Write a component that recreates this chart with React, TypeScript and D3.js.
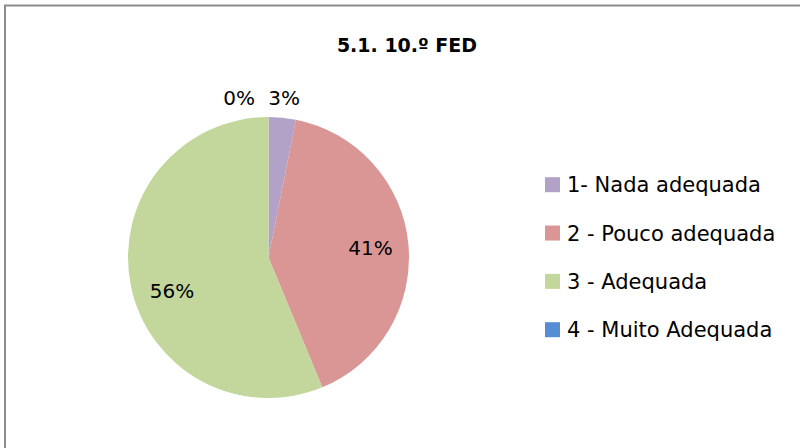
import { useRef, useEffect } from "react";
import * as d3 from "d3";

// answer counts (percentages shown are count / total)
const categories = ["1- Nada adequada", "2 - Pouco adequada", "3 - Adequada", "4 - Muito Adequada"];
const counts = [1, 13, 18, 0];
const colors = ["#b3a2c7", "#d99694", "#c3d69b", "#558ed5"];
const title = "5.1. 10.º FED";

const FONT = "'DejaVu Sans', 'Open Sans', sans-serif";

type Datum = { v: number; i: number };

export default function App() {
  const svgRef = useRef<SVGSVGElement>(null);

  useEffect(() => {
    if (!svgRef.current) return;
    const width = 800;
    const height = 448;
    const cx = 268.5;
    const cy = 257.5;
    const r = 140.5;

    const svg = d3.select(svgRef.current);
    svg.selectAll("*").remove();
    svg.attr("width", width).attr("height", height);

    svg.append("rect").attr("width", width).attr("height", height).attr("fill", "#fff");

    // chart area border (right/bottom are cut off in the original)
    svg.append("rect")
      .attr("x", 5)
      .attr("y", 5.5)
      .attr("width", width + 20)
      .attr("height", height + 20)
      .attr("fill", "none")
      .attr("stroke", "#8c8c8c")
      .attr("stroke-width", 2);

    svg.append("text")
      .attr("x", 407)
      .attr("y", 52)
      .attr("text-anchor", "middle")
      .attr("font-family", FONT)
      .attr("font-weight", "700")
      .attr("font-size", "19px")
      .attr("fill", "#000")
      .text(title);

    const total = d3.sum(counts);
    const data: Datum[] = counts.map((v, i) => ({ v, i }));

    const pie = d3.pie<Datum>()
      .value((d) => d.v)
      .sort(null);
    const arcs = pie(data);

    const arc = d3.arc<d3.PieArcDatum<Datum>>()
      .innerRadius(0)
      .outerRadius(r);

    const g = svg.append("g").attr("transform", `translate(${cx},${cy})`);

    g.selectAll("path.slice")
      .data(arcs.filter((a) => a.data.v > 0))
      .join("path")
      .attr("class", "slice")
      .attr("d", arc)
      .attr("fill", (d) => colors[d.data.i]);

    const fmt = (v: number) => `${Math.round((v / total) * 100)}%`;

    // inside labels for big slices
    const inner = d3.arc<d3.PieArcDatum<Datum>>()
      .innerRadius(r * 0.73)
      .outerRadius(r * 0.73);

    const big = arcs.filter((a) => a.endAngle - a.startAngle > 0.5);
    g.selectAll("text.in")
      .data(big)
      .join("text")
      .attr("class", "in")
      .attr("x", (d) => inner.centroid(d)[0] + (d.data.i === 2 ? 4 : 0))
      .attr("y", (d) => inner.centroid(d)[1] + (d.data.i === 2 ? 13 : 0))
      .attr("dy", "0.36em")
      .attr("text-anchor", "middle")
      .attr("font-family", FONT)
      .attr("font-size", "20px")
      .attr("fill", "#000")
      .text((d) => fmt(d.data.v));

    // outside labels for small slices (the 0% one is pushed left to avoid overlap)
    const outer = d3.arc<d3.PieArcDatum<Datum>>()
      .innerRadius(r * 1.14)
      .outerRadius(r * 1.14);
    const small = arcs.filter((a) => a.endAngle - a.startAngle <= 0.5);
    const smallPos = small.map((d) => outer.centroid(d));
    g.selectAll("text.out")
      .data(small)
      .join("text")
      .attr("class", "out")
      .attr("x", (d, k) => (d.data.v === 0 ? smallPos[0][0] - 45 : smallPos[k][0]))
      .attr("y", (d, k) => smallPos[k][1])
      .attr("dy", "0.36em")
      .attr("text-anchor", "middle")
      .attr("font-family", FONT)
      .attr("font-size", "20px")
      .attr("fill", "#000")
      .text((d) => fmt(d.data.v));

    // legend
    const ly = d3.scalePoint<string>()
      .domain(categories)
      .range([184.7, 329.7]);

    const leg = svg.append("g");
    leg.selectAll("rect")
      .data(categories)
      .join("rect")
      .attr("x", 545)
      .attr("y", (d) => (ly(d) || 0) - 7.5)
      .attr("width", 15)
      .attr("height", 15)
      .attr("fill", (_, i) => colors[i]);

    leg.selectAll("text")
      .data(categories)
      .join("text")
      .attr("x", 567)
      .attr("y", (d) => ly(d) || 0)
      .attr("dy", "0.36em")
      .attr("font-family", FONT)
      .attr("font-size", "21px")
      .attr("fill", "#000")
      .text((d) => d);
  }, []);

  return (
    <div style={{ position: "absolute", left: 0, top: 0, width: 800, height: 448, overflow: "hidden" }}>
      <svg ref={svgRef} style={{ display: "block" }} />
    </div>
  );
}
